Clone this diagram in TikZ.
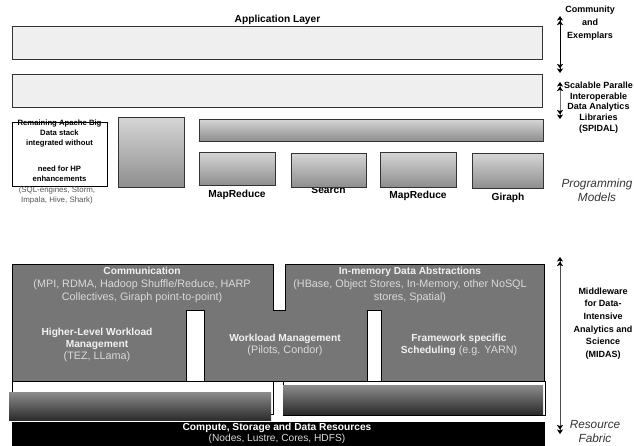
\documentclass[tikz,border=0pt]{standalone}
\usepackage{fontspec}
\setmainfont{Liberation Sans}
\usetikzlibrary{arrows.meta}
\definecolor{lightbox}{HTML}{EFEFEF}
\definecolor{darkbox}{HTML}{767676}
\definecolor{edge}{HTML}{333333}
\definecolor{gtop}{HTML}{D6D6D6}
\definecolor{gbot}{HTML}{8E8E8E}
\definecolor{btop}{HTML}{8C8C8C}
\definecolor{bbot}{HTML}{2C2C2C}
\definecolor{ltext}{HTML}{F2F2F2}
\definecolor{ltextr}{HTML}{DADADA}
\definecolor{smallgray}{HTML}{555555}
\tikzset{
  DS/.tip={Stealth[length=4.5pt,width=6pt,color=black,fill=black,inset=1pt]Stealth[length=4.5pt,width=6pt,color=black,fill=black,inset=1pt]},
  twohead/.style={DS-DS, line width=0.8pt},
  base/.style={inner sep=0pt, outer sep=0pt, anchor=north west},
  lightrect/.style={base, draw=edge, fill=lightbox, line width=0.8pt},
  gradrect/.style={base, draw=edge, top color=gtop, bottom color=gbot, line width=0.8pt},
  darkgrad/.style={base, draw=none, top color=btop, bottom color=bbot},
  whiterect/.style={base, draw=black, fill=white, line width=0.6pt},
  boldlbl/.style={font=\fontsize{10.2}{12}\selectfont\bfseries, align=center, inner sep=0pt},
  smalllbl/.style={font=\fontsize{7.7}{9.6}\selectfont\bfseries, align=center, inner sep=0pt},
  sidelbl/.style={font=\fontsize{9}{12.6}\selectfont\bfseries, align=center, inner sep=0pt},
  itallbl/.style={font=\fontsize{11.8}{14}\selectfont\itshape, text=black!80, align=center, inner sep=0pt},
  darklbl/.style={font=\fontsize{10.8}{13}\selectfont, text=ltextr, align=center, inner sep=0pt},
}
\begin{document}
\begin{tikzpicture}[x=1pt,y=-1pt]
\useasboundingbox (0,0) rectangle (634,445);

% ---------- top layers ----------
\node[boldlbl] (applbl) at (277.5,20) {Application Layer};
\node[lightrect, minimum width=530, minimum height=33] (app) at (12,26) {};
\node[lightrect, minimum width=530, minimum height=33] (spidalbox) at (12,74) {};

% remaining apache box
\node[whiterect, line width=0.8pt, minimum width=95, minimum height=64] (remain) at (12,122) {};
\node[smalllbl] (remtop) at (59.5,133.5) {Remaining Apache Big\\Data stack\\integrated without};
\node[smalllbl] (rembot) at (59.5,174) {need for HP\\enhancements};
\node[font=\fontsize{7.9}{10}\selectfont, text=smallgray, align=center, inner sep=0pt] (remsub) at (57,195) {(SQL-engines, Storm,\\Impala, Hive, Shark)};

\node[gradrect, minimum width=66, minimum height=70] (tallbox) at (118,117) {};
\node[gradrect, minimum width=344, minimum height=22] (longbar) at (199,119) {};

% labels partly hidden under boxes
\node[boldlbl] (classic) at (237,183) {Classic};
\node[boldlbl] (search) at (328.5,190) {Search};
\node[gradrect, minimum width=76, minimum height=33] (pmA) at (199,152) {};
\node[gradrect, minimum width=75, minimum height=34] (pmB) at (291,153) {};
\node[gradrect, minimum width=76, minimum height=35] (pmC) at (380,152) {};
\node[gradrect, minimum width=71, minimum height=35] (pmD) at (472,153) {};
\node[boldlbl] (mr1) at (237,195) {MapReduce};
\node[boldlbl] (mr2) at (418,196) {MapReduce};
\node[boldlbl] (giraph) at (508,198) {Giraph};

% ---------- right side labels ----------
\coordinate (a1t) at (560,16);
\coordinate (a1b) at (560,73);
\draw[twohead, black] (a1t) -- (a1b);
\node[sidelbl, font=\fontsize{9}{13}\selectfont\bfseries] (community) at (590,23) {Community\\and\\Exemplars};

\coordinate (a2t) at (560,82);
\coordinate (a2b) at (560,119);
\draw[twohead, draw=black!55] (a2t) -- (a2b);
\node[sidelbl, font=\fontsize{9}{10.7}\selectfont\bfseries] (spidal) at (598.5,107.5) {Scalable Paralle\\Interoperable\\Data Analytics\\Libraries\\(SPIDAL)};

\node[itallbl] (progmodels) at (597,190) {Programming\\Models};

\coordinate (a3t) at (560,257);
\coordinate (a3b) at (560,434);
\draw[twohead, draw=black!70] (a3t) -- (a3b);
\node[sidelbl] (midas) at (603,323.5) {Middleware\\for Data-\\Intensive\\Analytics and\\Science\\(MIDAS)};
\node[itallbl] (fabric) at (595,431) {Resource\\Fabric};

% ---------- middleware block ----------
\node[base, draw=black, fill=darkbox, line width=0.6pt, minimum width=532, minimum height=117] (midblock) at (12,264) {};
% gaps
\fill[white] (273,262.5) rectangle (285,310);
\draw[black, line width=0.6pt] (273,264) -- (273,310) -- (285,310) -- (285,264);
\fill[white] (186,310) rectangle (204,381);
\draw[black, line width=0.6pt] (186,381) -- (186,310) -- (204,310) -- (204,381);
\fill[white] (367,310) rectangle (381,381);
\draw[black, line width=0.6pt] (367,381) -- (367,310) -- (381,310) -- (381,381);

\node[darklbl] (comm) at (142,285) {\textbf{\color{ltext}\fontsize{10.2}{13}\selectfont Communication}\\(MPI, RDMA, Hadoop Shuffle/Reduce, HARP\\Collectives, Giraph point-to-point)};
\node[darklbl] (inmem) at (410,285) {\textbf{\color{ltext}\fontsize{10.2}{13}\selectfont In-memory Data Abstractions}\\(HBase, Object Stores, In-Memory, other NoSQL\\stores, Spatial)};
\node[darklbl, font=\fontsize{10.8}{12}\selectfont] (hlwm) at (97,345) {\textbf{\color{ltext}\fontsize{10.2}{12}\selectfont Higher-Level Workload}\\\textbf{\color{ltext}\fontsize{10.2}{12}\selectfont Management}\\(TEZ, LLama)};
\node[darklbl, font=\fontsize{10.8}{12}\selectfont] (wm) at (285,345) {\textbf{\color{ltext}\fontsize{10.2}{12}\selectfont Workload Management}\\(Pilots, Condor)};
\node[darklbl, font=\fontsize{10.8}{12}\selectfont] (fss) at (459,345) {\textbf{\color{ltext}\fontsize{10.2}{12}\selectfont Framework specific}\\\textbf{\color{ltext}\fontsize{10.2}{12}\selectfont Scheduling} (e.g. YARN)};

% ---------- lower bars ----------
\node[whiterect, minimum width=261, minimum height=33] (lowL) at (12,381) {};
\node[whiterect, minimum width=262, minimum height=34] (lowR) at (283,381) {};
\node[darkgrad, minimum width=262, minimum height=28] (barL) at (9,392) {};
\node[darkgrad, minimum width=260, minimum height=29] (barR) at (283,385) {};

% ---------- resource fabric ----------
\node[base, fill=black, minimum width=533, minimum height=26] (fabricbox) at (12,422) {};
\node[font=\fontsize{10.2}{11}\selectfont, text=ltextr, align=center, inner sep=0pt] (compute) at (277,433.5) {\textbf{\color{white}Compute, Storage and Data Resources}\\(Nodes, Lustre, Cores, HDFS)};

\end{tikzpicture}
\end{document}
